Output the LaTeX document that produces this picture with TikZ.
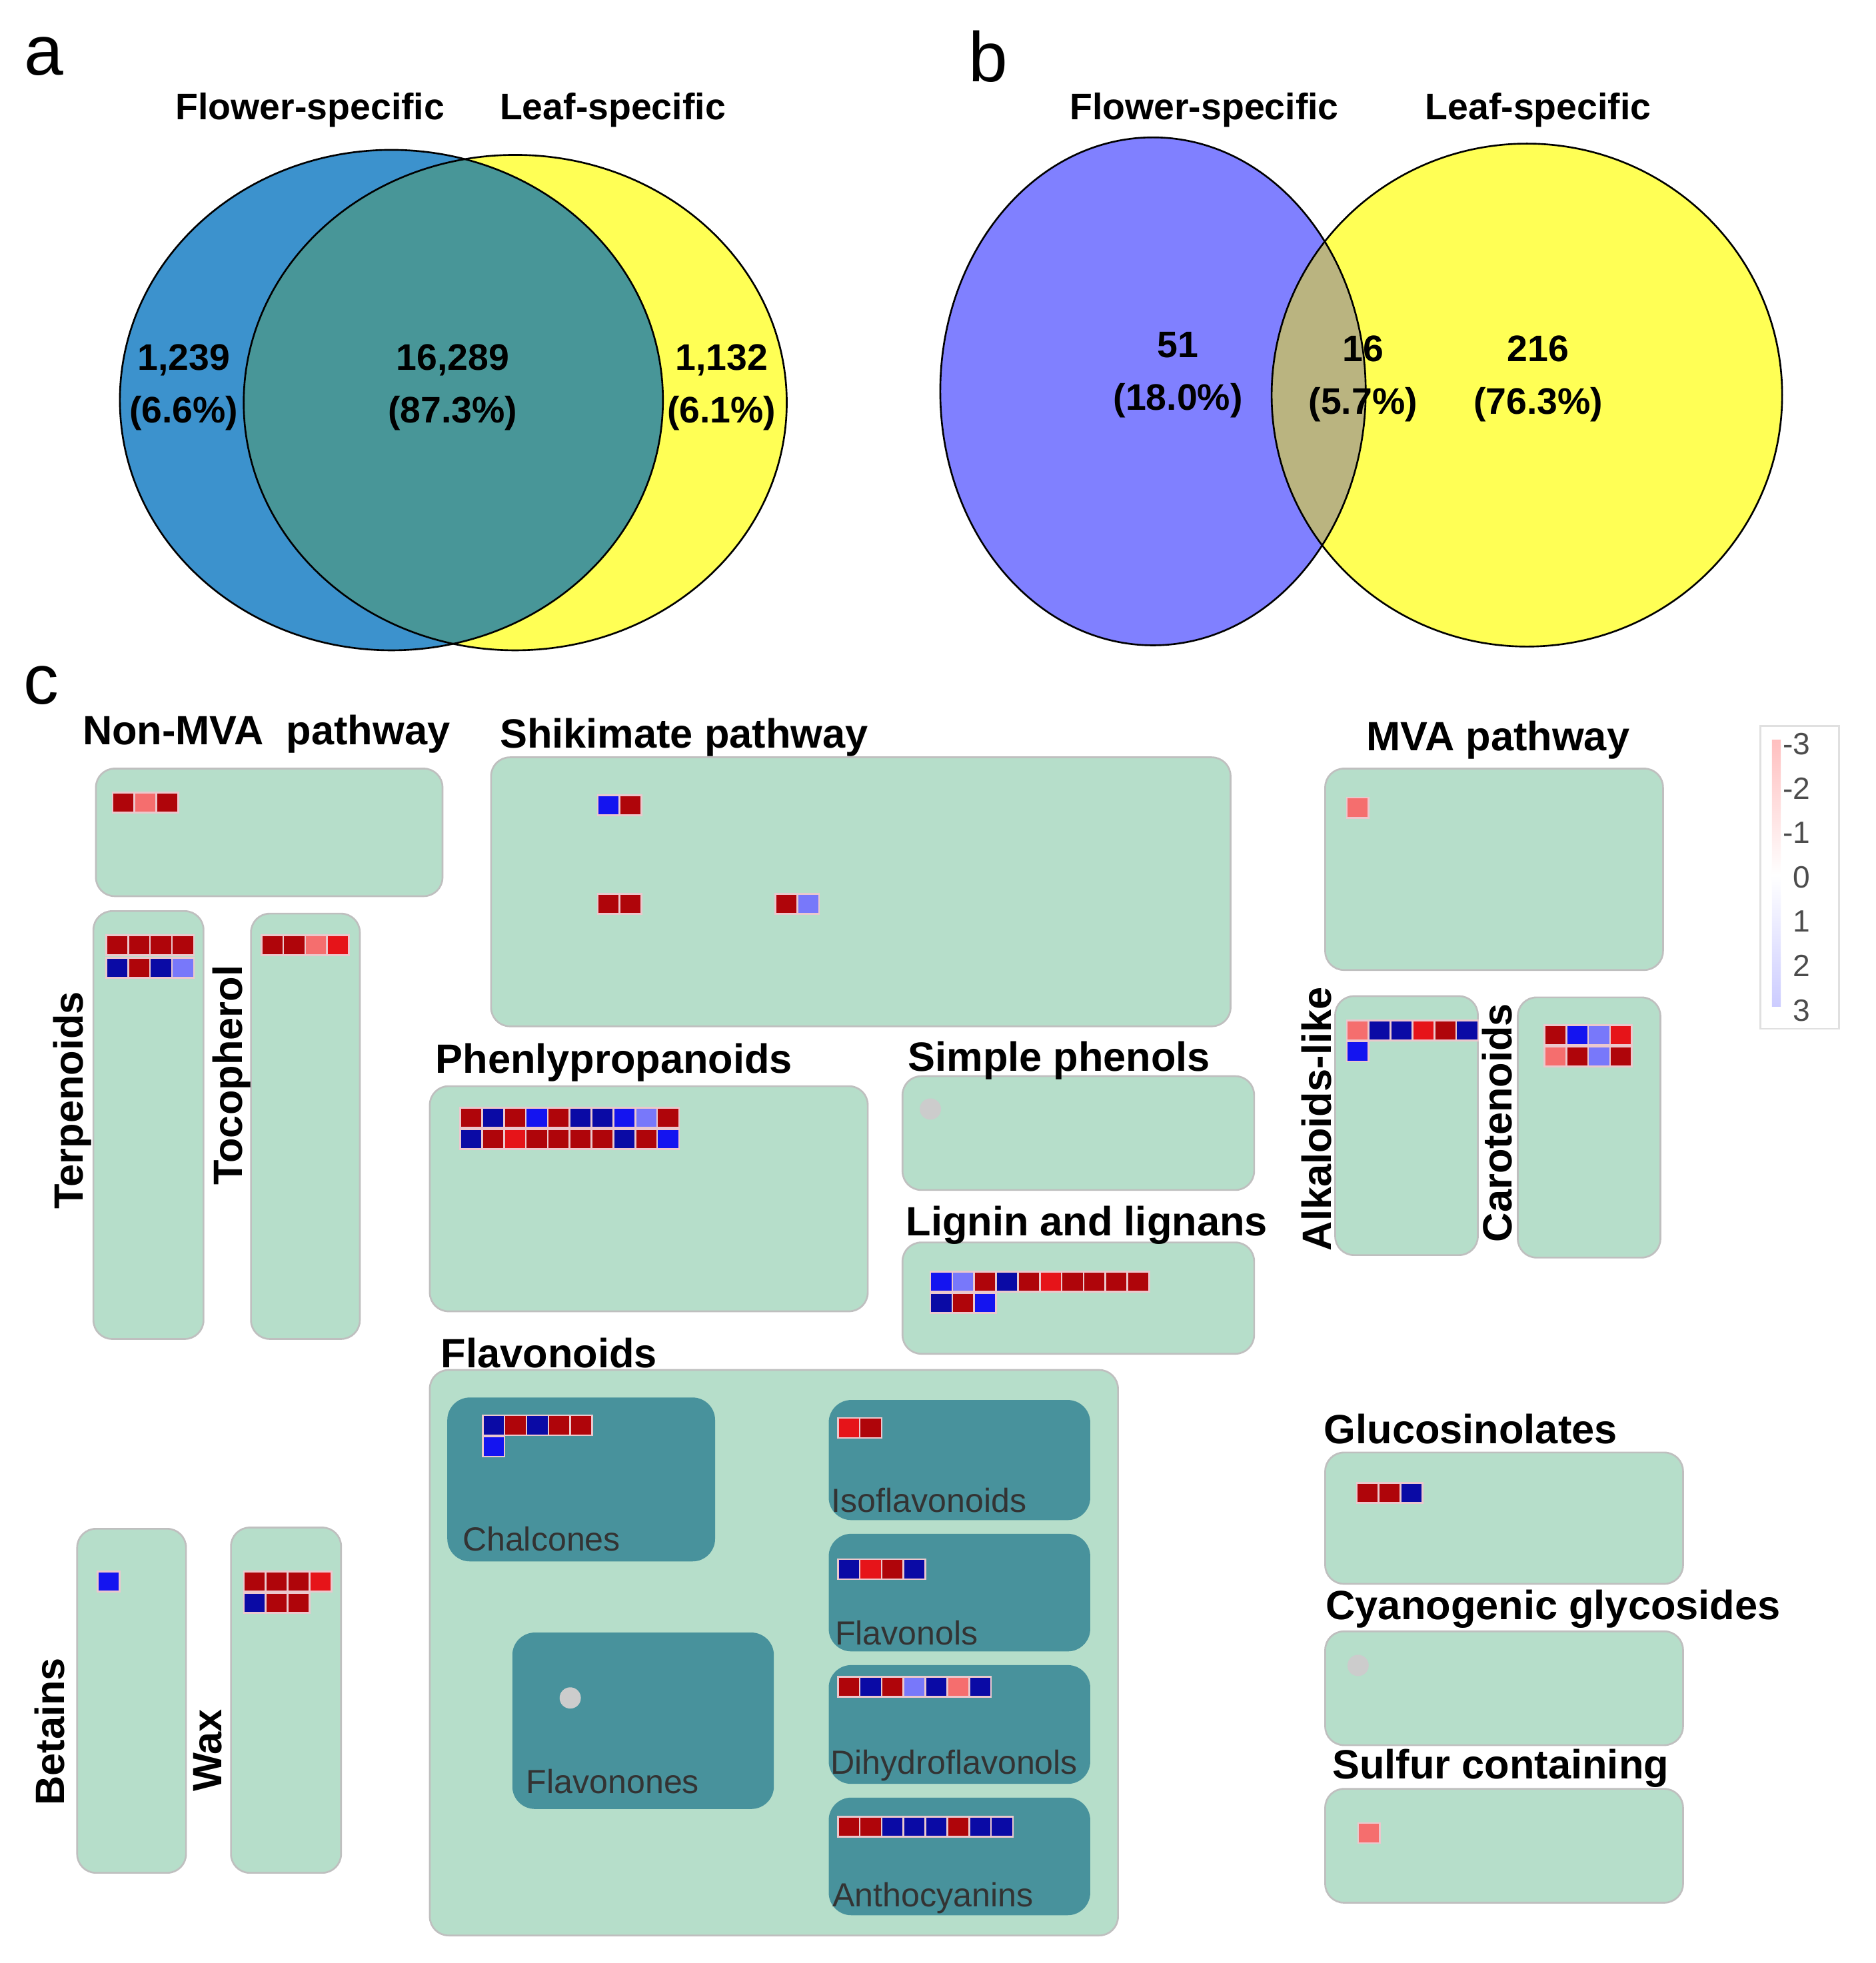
\documentclass[tikz,border=0pt]{standalone}
\usepackage{fontspec}
\setmainfont{Liberation Sans}
\usetikzlibrary{positioning,calc}

\definecolor{venblue}{RGB}{60,146,205}
\definecolor{venyellow}{RGB}{255,255,85}
\definecolor{venteal}{RGB}{72,150,152}
\definecolor{venpurple}{RGB}{128,128,255}
\definecolor{venolive}{RGB}{186,180,128}
\definecolor{mint}{RGB}{182,222,202}
\definecolor{subteal}{RGB}{72,146,156}
\definecolor{dr}{RGB}{175,5,10}
\definecolor{r}{RGB}{230,20,25}
\definecolor{lr}{RGB}{245,110,110}
\definecolor{db}{RGB}{10,10,165}
\definecolor{b}{RGB}{20,20,240}
\definecolor{lb}{RGB}{120,120,250}
\definecolor{cellrim}{RGB}{235,200,205}

\newcommand{\hmrow}[3]{%
  \foreach \c [count=\i from 0] in {#3}
    \filldraw[fill=\c, draw=cellrim, line width=0.4pt] ({#1+\i*17.5},#2) rectangle ++(17.5,16);}

\begin{document}
\begin{tikzpicture}[x=0.01cm, y=-0.01cm,
    panel/.style={font=\fontsize{16}{17}\selectfont},
    venlab/.style={font=\fontsize{8.4}{10}\selectfont\bfseries},
    vennum/.style={font=\fontsize{8.4}{12}\selectfont\bfseries, align=center},
    box/.style={draw=black!25, fill=mint, rounded corners=0.15cm, anchor=north west, inner sep=0pt},
    subbox/.style={fill=subteal, rounded corners=0.18cm, anchor=north west, inner sep=0pt},
    title/.style={font=\fontsize{9.3}{11}\selectfont\bfseries},
    sublab/.style={font=\fontsize{7.6}{9}\selectfont, text=black!80},
    side/.style={title, rotate=90},
    dot/.style={circle, fill=black!20, inner sep=0pt, minimum size=0.17cm}
  ]
  \useasboundingbox (0,0) rectangle (1500,1570);

  % panel a
  \node (pa) [panel] at (35,45) {a};
  \fill[venblue] (313,320) ellipse [x radius=2.17cm, y radius=2cm];
  \fill[venyellow] (412,322) ellipse [x radius=2.17cm, y radius=1.98cm];
  \begin{scope}
    \clip (313,320) ellipse [x radius=2.17cm, y radius=2cm];
    \fill[venteal] (412,322) ellipse [x radius=2.17cm, y radius=1.98cm];
  \end{scope}
  \draw (313,320) ellipse [x radius=2.17cm, y radius=2cm];
  \draw (412,322) ellipse [x radius=2.17cm, y radius=1.98cm];
  \node (fa) [venlab] at (248,88) {Flower-specific};
  \node (la) [venlab] at (490,88) {Leaf-specific};
  \node (na1) [vennum] at (147,310) {1,239\\(6.6\%)};
  \node (na2) [vennum] at (362,310) {16,289\\(87.3\%)};
  \node (na3) [vennum] at (577,310) {1,132\\(6.1\%)};

  % panel b
  \node (pb) [panel] at (790,45) {b};
  \fill[venpurple] (922,313) ellipse [x radius=1.7cm, y radius=2.03cm];
  \fill[venyellow] (1221,316) ellipse [x radius=2.04cm, y radius=2.01cm];
  \begin{scope}
    \clip (922,313) ellipse [x radius=1.7cm, y radius=2.03cm];
    \fill[venolive] (1221,316) ellipse [x radius=2.04cm, y radius=2.01cm];
  \end{scope}
  \draw (922,313) ellipse [x radius=1.7cm, y radius=2.03cm];
  \draw (1221,316) ellipse [x radius=2.04cm, y radius=2.01cm];
  \node (fb) [venlab] at (963,88) {Flower-specific};
  \node (lb) [venlab] at (1230,88) {Leaf-specific};
  \node (nb1) [vennum] at (942,300) {51\\(18.0\%)};
  \node (nb2) [vennum] at (1090,303) {16\\(5.7\%)};
  \node (nb3) [vennum] at (1230,303) {216\\(76.3\%)};

  % panel c
  \node (pc) [panel] at (33,548) {c};

  \node (nonmva) [box, minimum width=2.77cm, minimum height=1.02cm] at (76,614) {};
  \node [title] at (213,587) {Non-MVA\ \ pathway};
  \node (terp) [box, minimum width=0.88cm, minimum height=3.42cm] at (74,728) {};
  \node [side] at (58,880) {Terpenoids};
  \node (toco) [box, minimum width=0.87cm, minimum height=3.4cm] at (200,730) {};
  \node [side] at (185,860) {Tocopherol};
  \node (shik) [box, minimum width=5.91cm, minimum height=2.15cm] at (392,605) {};
  \node [title] at (547,590) {Shikimate pathway};
  \node (mva) [box, minimum width=2.7cm, minimum height=1.61cm] at (1059,614) {};
  \node [title] at (1198,592) {MVA pathway};
  \node (phen) [box, minimum width=3.5cm, minimum height=1.8cm] at (343,868) {};
  \node [title] at (491,850) {Phenlypropanoids};
  \node (simple) [box, minimum width=2.81cm, minimum height=0.91cm] at (721,860) {};
  \node [title] at (847,848) {Simple phenols};
  \node (lign) [box, minimum width=2.81cm, minimum height=0.89cm] at (721,993) {};
  \node [title] at (869,980) {Lignin and lignans};
  \node (alk) [box, minimum width=1.14cm, minimum height=2.07cm] at (1067,796) {};
  \node [side] at (1053,895) {Alkaloids-like};
  \node (caro) [box, minimum width=1.14cm, minimum height=2.08cm] at (1213,797) {};
  \node [side] at (1197,898) {Carotenoids};

  \node (flav) [box, minimum width=5.5cm, minimum height=4.52cm] at (343,1095) {};
  \node [title] at (439,1082) {Flavonoids};
  \node (chal) [subbox, minimum width=2.14cm, minimum height=1.31cm] at (357,1117) {};
  \node [sublab] at (433,1231) {Chalcones};
  \node (iso) [subbox, minimum width=2.09cm, minimum height=0.96cm] at (662,1119) {};
  \node [sublab] at (743,1200) {Isoflavonoids};
  \node (flvl) [subbox, minimum width=2.09cm, minimum height=0.94cm] at (662,1226) {};
  \node [sublab] at (725,1306) {Flavonols};
  \node (dihy) [subbox, minimum width=2.09cm, minimum height=0.95cm] at (662,1331) {};
  \node [sublab] at (763,1412) {Dihydroflavonols};
  \node (anth) [subbox, minimum width=2.09cm, minimum height=0.94cm] at (662,1437) {};
  \node [sublab] at (746,1518) {Anthocyanins};
  \node (flvn) [subbox, minimum width=2.09cm, minimum height=1.41cm] at (409,1305) {};
  \node [sublab] at (490,1425) {Flavonones};

  \node (gluc) [box, minimum width=2.86cm, minimum height=1.05cm] at (1059,1161) {};
  \node [title] at (1176,1143) {Glucosinolates};
  \node (cyan) [box, minimum width=2.86cm, minimum height=0.91cm] at (1059,1304) {};
  \node [title] at (1242,1287) {Cyanogenic glycosides};
  \node (sulf) [box, minimum width=2.86cm, minimum height=0.91cm] at (1059,1430) {};
  \node [title] at (1200,1414) {Sulfur containing};
  \node (bet) [box, minimum width=0.87cm, minimum height=2.75cm] at (61,1222) {};
  \node [side] at (40,1385) {Betains};
  \node (wax) [box, minimum width=0.88cm, minimum height=2.76cm] at (184,1221) {};
  \node [side] at (166,1400) {Wax};

  % empty entries
  \node (d1) [dot] at (744,887) {};
  \node (d2) [dot] at (456,1358) {};
  \node (d3) [dot] at (1086,1332) {};

  % heatmap cells
  \hmrow{90}{634}{dr,lr,dr}
  \hmrow{85}{748}{dr,dr,dr,dr}
  \hmrow{85}{766}{db,dr,db,lb}
  \hmrow{209}{748}{dr,dr,lr,r}
  \hmrow{478}{636}{b,dr}
  \hmrow{478}{715}{dr,dr}
  \hmrow{620}{715}{dr,lb}
  \hmrow{1077}{638}{lr}
  \hmrow{368}{886}{dr,db,dr,b,dr,db,db,b,lb,dr}
  \hmrow{368}{903}{db,dr,r,dr,dr,dr,dr,db,dr,b}
  \hmrow{744}{1017}{b,lb,dr,db,dr,r,dr,dr,dr,dr}
  \hmrow{744}{1034}{db,dr,b}
  \hmrow{1077}{816}{lr,db,db,r,dr,db}
  \hmrow{1077}{833}{b}
  \hmrow{1235}{820}{dr,b,lb,r}
  \hmrow{1235}{837}{lr,dr,lb,dr}
  \hmrow{386}{1132}{db,dr,db,dr,dr}
  \hmrow{386}{1149}{b}
  \hmrow{670}{1134}{r,dr}
  \hmrow{670}{1247}{db,r,dr,db}
  \hmrow{670}{1341}{dr,db,dr,lb,db,lr,db}
  \hmrow{670}{1453}{dr,dr,db,db,db,dr,db,db}
  \hmrow{1085}{1186}{dr,dr,db}
  \hmrow{1086}{1458}{lr}
  \hmrow{78}{1257}{b}
  \hmrow{195}{1257}{dr,dr,dr,r}
  \hmrow{195}{1274}{db,dr,dr}

  % legend
  \node (leg) [draw=black!12, fill=white, anchor=north west, minimum width=0.63cm, minimum height=2.42cm, inner sep=0pt] at (1407,580) {};
  \shade[top color=red!25, bottom color=white] (1417,592) rectangle (1424,700);
  \shade[top color=white, bottom color=blue!20] (1417,700) rectangle (1424,805);
  \foreach \v [count=\k from 0] in {-3,-2,-1,0,1,2,3}
    \node [font=\fontsize{7}{8}\selectfont, text=black!70, anchor=east] at (1460,{595+\k*35.5}) {\v};
\end{tikzpicture}
\end{document}
